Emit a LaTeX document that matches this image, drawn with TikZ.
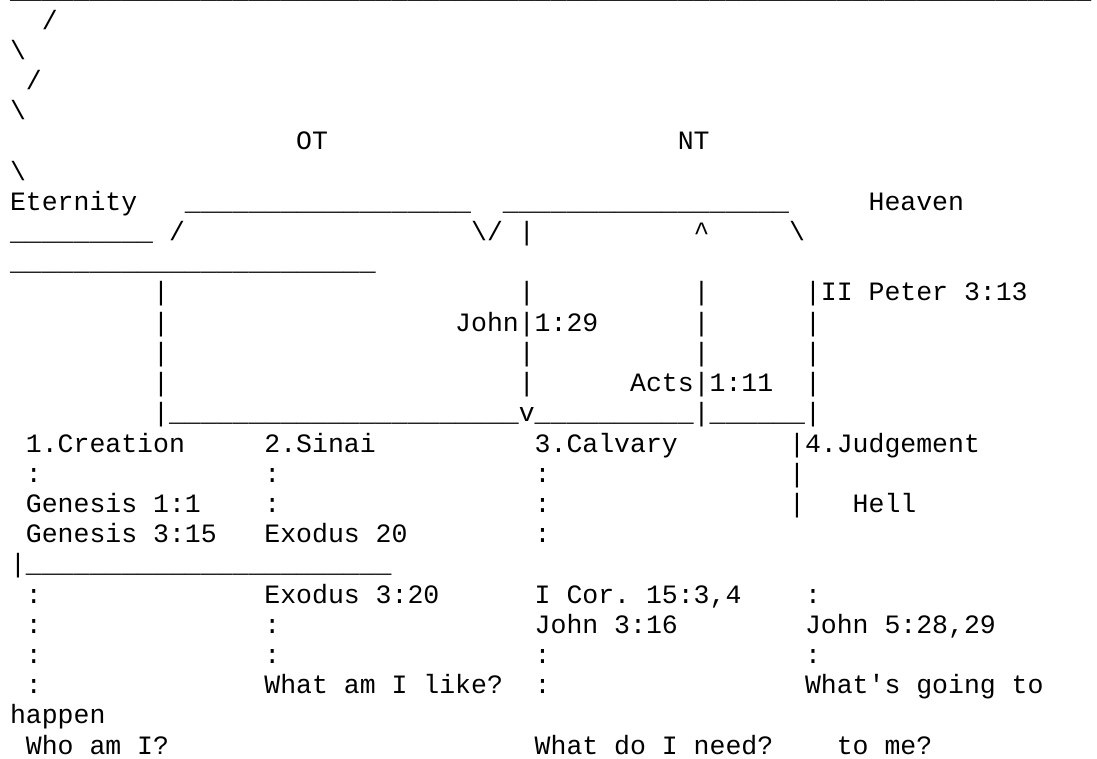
\documentclass[tikz,border=0pt]{standalone}
\usepackage{fontspec}
\setmonofont{Liberation Mono}
\ExplSyntaxOn
\cs_new:Npn \myus #1 {\prg_replicate:nn{#1}{\_}}
\ExplSyntaxOff
\newcommand\mybs{\textbackslash}
\newcommand\mycaret{\textasciicircum}
\tikzset{asc/.style={anchor=base west, inner sep=0pt, outer sep=0pt, text=black,
  font=\fontsize{26.5}{30}\selectfont\ttfamily}}
% name, line, column, text
\newcommand\tx[4]{\node[asc] (#1) at ({10+#3*15.9},{1-(#2-1)*30.2}) {#4};}
\begin{document}
\begin{tikzpicture}[x=1pt,y=1pt]
\fill[white] (0,0) rectangle (1097,-759);
\useasboundingbox (0,0) rectangle (1097,-759);
\node[asc, text height=0pt] (top) at (10,1) {\myus{68}};
\tx{s2}{2}{2}{/}
\tx{s3}{3}{0}{\mybs}
\tx{s4}{4}{1}{/}
\tx{s5}{5}{0}{\mybs}
\tx{ot}{6}{18}{OT}
\tx{nt}{6}{42}{NT}
\tx{s7}{7}{0}{\mybs}
\tx{eternity}{8}{0}{Eternity}
\tx{otbar}{8}{11}{\myus{18}}
\tx{ntbar}{8}{31}{\myus{18}}
\tx{heaven}{8}{54}{Heaven}
\tx{l9a}{9}{0}{\myus{9}}
\tx{l9b}{9}{10}{/}
\tx{l9c}{9}{29}{\mybs/}
\tx{l9d}{9}{32}{|}
\tx{l9e}{9}{43}{\mycaret}
\tx{l9f}{9}{49}{\mybs}
\tx{l10}{10}{0}{\myus{23}}
\tx{l11a}{11}{9}{|}
\tx{l11b}{11}{32}{|}
\tx{l11c}{11}{43}{|}
\tx{peter}{11}{50}{|II Peter 3:13}
\tx{l12a}{12}{9}{|}
\tx{john}{12}{28}{John|1:29}
\tx{l12c}{12}{43}{|}
\tx{l12d}{12}{50}{|}
\tx{l13a}{13}{9}{|}
\tx{l13b}{13}{32}{|}
\tx{l13c}{13}{43}{|}
\tx{l13d}{13}{50}{|}
\tx{l14a}{14}{9}{|}
\tx{l14b}{14}{32}{|}
\tx{acts}{14}{39}{Acts|1:11}
\tx{l14d}{14}{50}{|}
\tx{l15}{15}{9}{|\myus{22}v\myus{10}|\myus{6}|}
\tx{creation}{16}{1}{1.Creation}
\tx{sinai}{16}{16}{2.Sinai}
\tx{calvary}{16}{33}{3.Calvary}
\tx{judgement}{16}{49}{|4.Judgement}
\tx{l17a}{17}{1}{:}
\tx{l17b}{17}{16}{:}
\tx{l17c}{17}{33}{:}
\tx{l17d}{17}{49}{|}
\tx{gen1}{18}{1}{Genesis 1:1}
\tx{l18b}{18}{16}{:}
\tx{l18c}{18}{33}{:}
\tx{l18d}{18}{49}{|}
\tx{hell}{18}{53}{Hell}
\tx{gen3}{19}{1}{Genesis 3:15}
\tx{ex20}{19}{16}{Exodus 20}
\tx{l19c}{19}{33}{:}
\tx{l20}{20}{0}{|\myus{23}}
\tx{l21a}{21}{1}{:}
\tx{ex3}{21}{16}{Exodus 3:20}
\tx{cor}{21}{33}{I Cor. 15:3,4}
\tx{l21d}{21}{50}{:}
\tx{l22a}{22}{1}{:}
\tx{l22b}{22}{16}{:}
\tx{john3}{22}{33}{John 3:16}
\tx{john5}{22}{50}{John 5:28,29}
\tx{l23a}{23}{1}{:}
\tx{l23b}{23}{16}{:}
\tx{l23c}{23}{33}{:}
\tx{l23d}{23}{50}{:}
\tx{l24a}{24}{1}{:}
\tx{like}{24}{16}{What am I like?}
\tx{l24c}{24}{33}{:}
\tx{going}{24}{50}{What's going to}
\tx{happen}{25}{0}{happen}
\tx{who}{26}{1}{Who am I?}
\tx{need}{26}{33}{What do I need?}
\tx{tome}{26}{52}{to me?}
\end{tikzpicture}
\end{document}
